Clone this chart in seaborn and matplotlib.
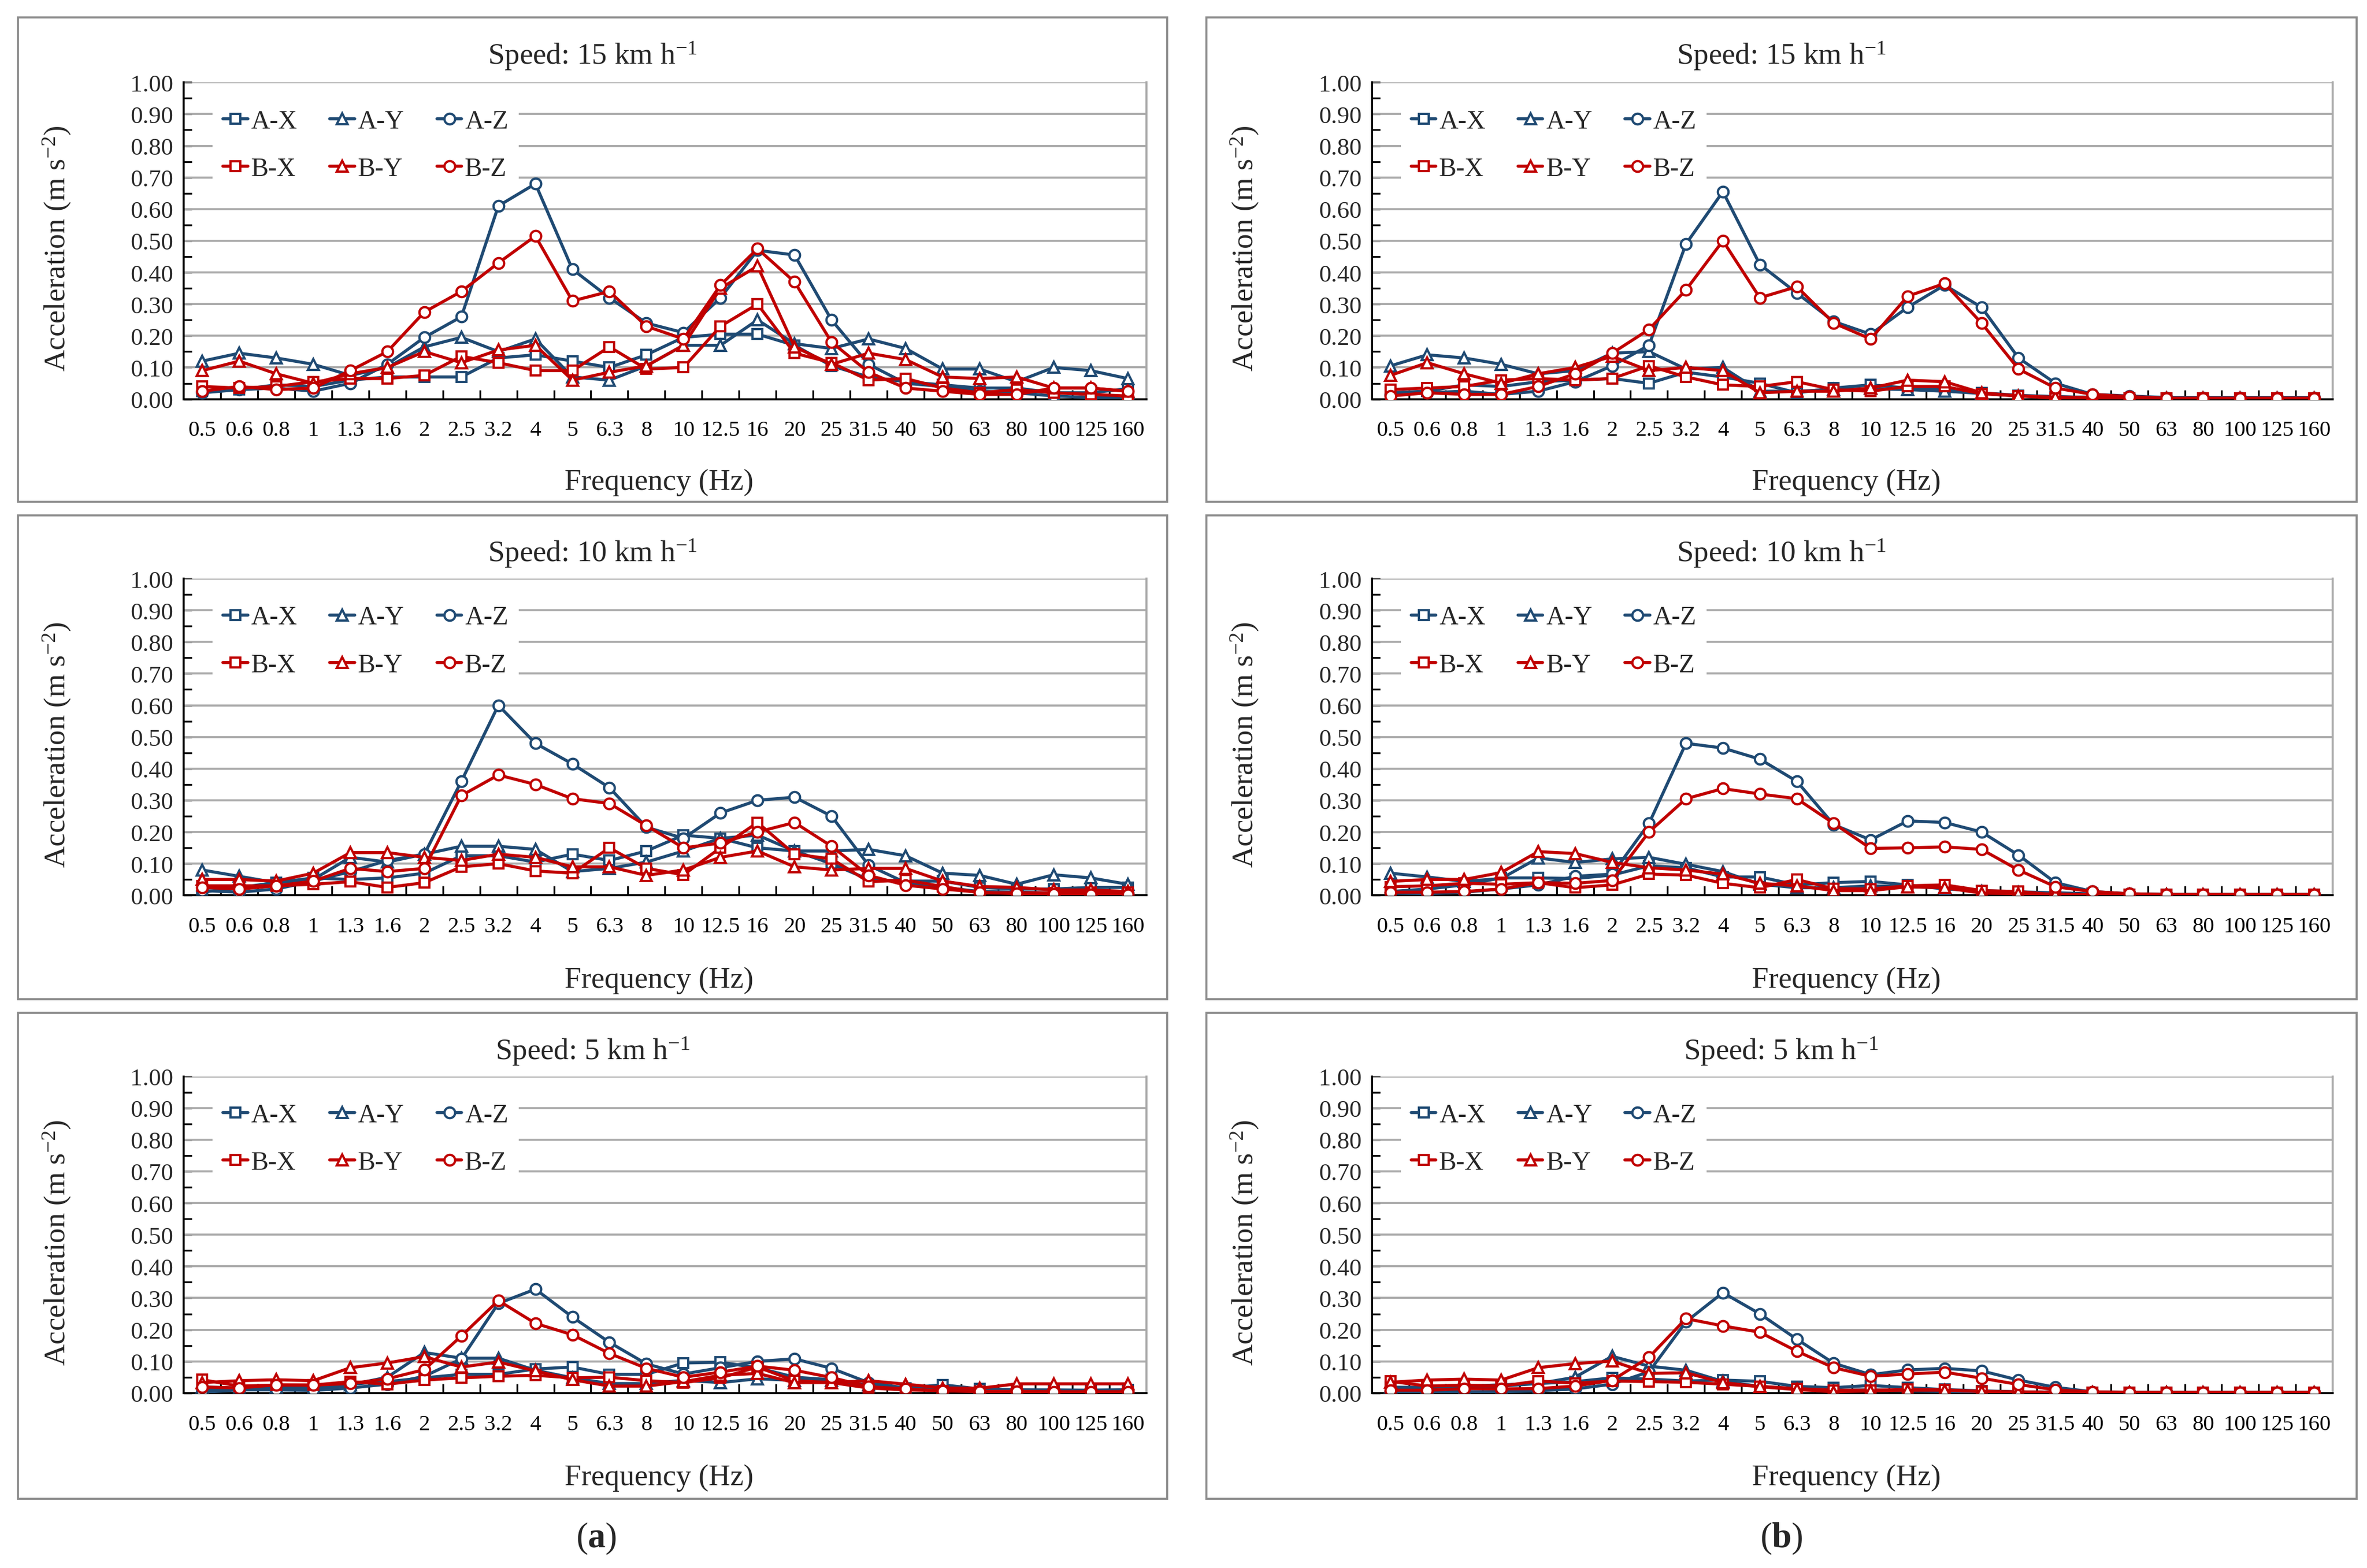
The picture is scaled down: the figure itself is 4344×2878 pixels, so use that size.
import numpy as np
import pandas as pd
import matplotlib
matplotlib.use("Agg")
import matplotlib.pyplot as plt
import seaborn as sns
from matplotlib.patches import Rectangle

sns.set_theme(style="white")
plt.rcParams['font.family'] = ['Liberation Serif', 'DejaVu Serif']
plt.rcParams['mathtext.fontset'] = 'custom'
plt.rcParams['mathtext.rm'] = 'Liberation Serif'
plt.rcParams['mathtext.it'] = 'Liberation Serif:italic'
plt.rcParams['mathtext.bf'] = 'Liberation Serif:bold'
plt.rcParams['mathtext.default'] = 'regular'

# ---------------- data ----------------
FREQ = ["0.5", "0.6", "0.8", "1", "1.3", "1.6", "2", "2.5", "3.2", "4", "5", "6.3", "8",
        "10", "12.5", "16", "20", "25", "31.5", "40", "50", "63", "80", "100", "125", "160"]
SERIES = ["A-X", "A-Y", "A-Z", "B-X", "B-Y", "B-Z"]
YTICKS = [0.0, 0.1, 0.2, 0.3, 0.4, 0.5, 0.6, 0.7, 0.8, 0.9, 1.0]

# (a) 15 km/h
a15_AX = [0.025, 0.03, 0.045, 0.04, 0.06, 0.07, 0.07, 0.07, 0.13, 0.14, 0.12, 0.10, 0.14, 0.195, 0.205, 0.205, 0.17, 0.105, 0.07, 0.055, 0.045, 0.035, 0.035, 0.02, 0.02, 0.033]
a15_AY = [0.12, 0.145, 0.13, 0.11, 0.075, 0.10, 0.165, 0.195, 0.15, 0.19, 0.07, 0.06, 0.105, 0.17, 0.17, 0.25, 0.175, 0.16, 0.19, 0.16, 0.095, 0.095, 0.055, 0.10, 0.09, 0.065]
a15_AZ = [0.02, 0.03, 0.035, 0.025, 0.05, 0.11, 0.195, 0.26, 0.61, 0.68, 0.41, 0.32, 0.24, 0.21, 0.32, 0.47, 0.455, 0.25, 0.11, 0.05, 0.04, 0.025, 0.02, 0.01, 0.005, 0.005]
a15_BX = [0.04, 0.035, 0.04, 0.055, 0.065, 0.065, 0.075, 0.135, 0.115, 0.09, 0.09, 0.165, 0.095, 0.10, 0.23, 0.30, 0.145, 0.115, 0.06, 0.065, 0.035, 0.02, 0.03, 0.02, 0.015, 0.01]
a15_BY = [0.09, 0.12, 0.08, 0.05, 0.08, 0.10, 0.15, 0.115, 0.155, 0.17, 0.06, 0.085, 0.105, 0.17, 0.35, 0.42, 0.165, 0.11, 0.145, 0.125, 0.07, 0.065, 0.07, 0.035, 0.035, 0.025]
a15_BZ = [0.025, 0.04, 0.03, 0.035, 0.09, 0.15, 0.275, 0.34, 0.43, 0.515, 0.31, 0.34, 0.23, 0.19, 0.36, 0.475, 0.37, 0.18, 0.085, 0.035, 0.025, 0.015, 0.015, 0.035, 0.035, 0.025]

# (b) 15 km/h
b15_AX = [0.02, 0.025, 0.045, 0.04, 0.055, 0.06, 0.065, 0.05, 0.085, 0.07, 0.05, 0.02, 0.035, 0.045, 0.035, 0.03, 0.02, 0.012, 0.008, 0.005, 0.003, 0.003, 0.003, 0.003, 0.003, 0.003]
b15_AY = [0.105, 0.14, 0.13, 0.11, 0.08, 0.09, 0.145, 0.15, 0.095, 0.10, 0.025, 0.025, 0.03, 0.033, 0.03, 0.025, 0.018, 0.01, 0.008, 0.005, 0.003, 0.003, 0.003, 0.003, 0.003, 0.003]
b15_AZ = [0.015, 0.02, 0.025, 0.015, 0.025, 0.055, 0.105, 0.17, 0.49, 0.655, 0.425, 0.335, 0.245, 0.205, 0.29, 0.36, 0.29, 0.13, 0.05, 0.015, 0.01, 0.005, 0.005, 0.005, 0.005, 0.005]
b15_BX = [0.03, 0.035, 0.04, 0.06, 0.065, 0.06, 0.065, 0.105, 0.07, 0.045, 0.04, 0.055, 0.03, 0.025, 0.04, 0.04, 0.017, 0.01, 0.003, 0.002, 0.002, 0.002, 0.002, 0.002, 0.002, 0.002]
b15_BY = [0.075, 0.115, 0.08, 0.05, 0.08, 0.10, 0.135, 0.09, 0.10, 0.09, 0.02, 0.025, 0.025, 0.035, 0.06, 0.055, 0.02, 0.01, 0.006, 0.005, 0.003, 0.003, 0.003, 0.003, 0.003, 0.003]
b15_BZ = [0.01, 0.02, 0.015, 0.015, 0.04, 0.08, 0.145, 0.22, 0.345, 0.50, 0.32, 0.355, 0.24, 0.19, 0.325, 0.365, 0.24, 0.095, 0.035, 0.015, 0.008, 0.003, 0.003, 0.003, 0.003, 0.003]

# (a) 10 km/h
a10_AX = [0.01, 0.025, 0.04, 0.055, 0.05, 0.055, 0.07, 0.125, 0.125, 0.105, 0.13, 0.11, 0.14, 0.19, 0.18, 0.15, 0.14, 0.10, 0.05, 0.045, 0.045, 0.025, 0.02, 0.02, 0.025, 0.025]
a10_AY = [0.08, 0.06, 0.04, 0.05, 0.12, 0.105, 0.13, 0.155, 0.155, 0.145, 0.075, 0.085, 0.105, 0.14, 0.18, 0.19, 0.14, 0.14, 0.145, 0.125, 0.07, 0.063, 0.035, 0.065, 0.055, 0.035]
a10_AZ = [0.015, 0.01, 0.02, 0.045, 0.075, 0.11, 0.13, 0.36, 0.60, 0.48, 0.415, 0.34, 0.215, 0.18, 0.26, 0.30, 0.31, 0.25, 0.095, 0.04, 0.025, 0.012, 0.01, 0.008, 0.008, 0.005]
a10_BX = [0.03, 0.03, 0.03, 0.035, 0.043, 0.025, 0.04, 0.09, 0.10, 0.077, 0.07, 0.15, 0.085, 0.065, 0.15, 0.23, 0.13, 0.115, 0.043, 0.048, 0.028, 0.008, 0.008, 0.008, 0.01, 0.01]
a10_BY = [0.05, 0.05, 0.045, 0.07, 0.135, 0.135, 0.12, 0.11, 0.13, 0.12, 0.09, 0.09, 0.063, 0.08, 0.12, 0.14, 0.09, 0.08, 0.085, 0.085, 0.045, 0.028, 0.025, 0.017, 0.017, 0.012]
a10_BZ = [0.025, 0.02, 0.03, 0.045, 0.085, 0.075, 0.085, 0.315, 0.38, 0.35, 0.305, 0.29, 0.22, 0.15, 0.165, 0.20, 0.23, 0.155, 0.063, 0.032, 0.02, 0.01, 0.005, 0.004, 0.003, 0.003]

# (b) 10 km/h
b10_AX = [0.012, 0.02, 0.033, 0.055, 0.055, 0.053, 0.064, 0.093, 0.087, 0.058, 0.058, 0.033, 0.04, 0.044, 0.033, 0.02, 0.015, 0.011, 0.008, 0.005, 0.002, 0.002, 0.002, 0.002, 0.002, 0.002]
b10_AY = [0.07, 0.058, 0.044, 0.053, 0.118, 0.104, 0.115, 0.12, 0.098, 0.075, 0.035, 0.024, 0.024, 0.03, 0.027, 0.024, 0.013, 0.01, 0.007, 0.004, 0.002, 0.002, 0.002, 0.002, 0.002, 0.002]
b10_AZ = [0.007, 0.005, 0.01, 0.02, 0.033, 0.06, 0.067, 0.227, 0.48, 0.465, 0.43, 0.36, 0.223, 0.175, 0.235, 0.23, 0.20, 0.127, 0.04, 0.012, 0.005, 0.003, 0.003, 0.003, 0.003, 0.003]
b10_BX = [0.027, 0.03, 0.038, 0.035, 0.04, 0.024, 0.033, 0.067, 0.064, 0.038, 0.024, 0.05, 0.021, 0.02, 0.03, 0.033, 0.015, 0.012, 0.002, 0.002, 0.002, 0.002, 0.002, 0.002, 0.002, 0.002]
b10_BY = [0.044, 0.05, 0.05, 0.072, 0.138, 0.132, 0.104, 0.087, 0.08, 0.067, 0.038, 0.03, 0.015, 0.015, 0.027, 0.024, 0.007, 0.005, 0.004, 0.002, 0.002, 0.002, 0.002, 0.002, 0.002, 0.002]
b10_BZ = [0.01, 0.01, 0.012, 0.02, 0.04, 0.038, 0.047, 0.20, 0.305, 0.337, 0.32, 0.305, 0.227, 0.148, 0.15, 0.153, 0.145, 0.08, 0.027, 0.012, 0.005, 0.003, 0.003, 0.003, 0.003, 0.003]

# (a) 5 km/h
a5_AX = [0.01, 0.016, 0.019, 0.018, 0.028, 0.036, 0.048, 0.059, 0.059, 0.076, 0.082, 0.059, 0.059, 0.095, 0.097, 0.08, 0.05, 0.042, 0.022, 0.016, 0.026, 0.013, 0.01, 0.008, 0.009, 0.01]
a5_AY = [0.019, 0.016, 0.019, 0.013, 0.026, 0.05, 0.128, 0.11, 0.11, 0.072, 0.048, 0.03, 0.03, 0.04, 0.033, 0.045, 0.04, 0.04, 0.025, 0.016, 0.012, 0.013, 0.01, 0.01, 0.009, 0.01]
a5_AZ = [0.002, 0.01, 0.01, 0.008, 0.016, 0.028, 0.053, 0.108, 0.283, 0.328, 0.24, 0.16, 0.092, 0.06, 0.08, 0.10, 0.108, 0.078, 0.033, 0.016, 0.008, 0.005, 0.005, 0.003, 0.003, 0.003]
a5_BX = [0.042, 0.022, 0.025, 0.025, 0.036, 0.028, 0.041, 0.048, 0.053, 0.056, 0.048, 0.05, 0.039, 0.033, 0.048, 0.082, 0.039, 0.033, 0.016, 0.01, 0.007, 0.005, 0.005, 0.004, 0.004, 0.004]
a5_BY = [0.033, 0.039, 0.042, 0.039, 0.08, 0.095, 0.115, 0.082, 0.098, 0.07, 0.042, 0.022, 0.022, 0.036, 0.056, 0.062, 0.033, 0.033, 0.039, 0.028, 0.016, 0.015, 0.029, 0.029, 0.029, 0.029]
a5_BZ = [0.019, 0.016, 0.026, 0.025, 0.03, 0.045, 0.074, 0.18, 0.292, 0.22, 0.184, 0.125, 0.078, 0.05, 0.066, 0.085, 0.072, 0.049, 0.02, 0.013, 0.007, 0.005, 0.005, 0.004, 0.004, 0.004]

# (b) 5 km/h
b5_AX = [0.018, 0.018, 0.021, 0.026, 0.03, 0.036, 0.048, 0.044, 0.038, 0.041, 0.037, 0.021, 0.017, 0.024, 0.017, 0.011, 0.007, 0.004, 0.002, 0.002, 0.002, 0.002, 0.002, 0.002, 0.002, 0.002]
b5_AY = [0.018, 0.017, 0.02, 0.022, 0.03, 0.05, 0.116, 0.085, 0.072, 0.037, 0.021, 0.013, 0.009, 0.01, 0.007, 0.005, 0.004, 0.003, 0.002, 0.002, 0.002, 0.002, 0.002, 0.002, 0.002, 0.002]
b5_AZ = [0.001, 0.004, 0.004, 0.004, 0.007, 0.013, 0.028, 0.067, 0.225, 0.317, 0.25, 0.17, 0.094, 0.058, 0.073, 0.078, 0.07, 0.041, 0.018, 0.004, 0.001, 0.001, 0.001, 0.001, 0.001, 0.001]
b5_BX = [0.037, 0.022, 0.025, 0.022, 0.038, 0.031, 0.038, 0.036, 0.034, 0.028, 0.021, 0.014, 0.009, 0.009, 0.011, 0.01, 0.005, 0.004, 0.002, 0.002, 0.002, 0.002, 0.002, 0.002, 0.002, 0.002]
b5_BY = [0.034, 0.041, 0.044, 0.041, 0.08, 0.093, 0.101, 0.062, 0.064, 0.033, 0.02, 0.011, 0.004, 0.007, 0.009, 0.009, 0.005, 0.003, 0.002, 0.002, 0.002, 0.002, 0.002, 0.002, 0.002, 0.002]
b5_BZ = [0.009, 0.009, 0.014, 0.013, 0.014, 0.022, 0.04, 0.113, 0.235, 0.212, 0.192, 0.132, 0.08, 0.053, 0.06, 0.066, 0.047, 0.027, 0.01, 0.004, 0.002, 0.002, 0.002, 0.002, 0.002, 0.002]

SPEEDS = ["15", "10", "5"]
PANEL_DATA = {
    (0, 0): [a15_AX, a15_AY, a15_AZ, a15_BX, a15_BY, a15_BZ],
    (0, 1): [b15_AX, b15_AY, b15_AZ, b15_BX, b15_BY, b15_BZ],
    (1, 0): [a10_AX, a10_AY, a10_AZ, a10_BX, a10_BY, a10_BZ],
    (1, 1): [b10_AX, b10_AY, b10_AZ, b10_BX, b10_BY, b10_BZ],
    (2, 0): [a5_AX, a5_AY, a5_AZ, a5_BX, a5_BY, a5_BZ],
    (2, 1): [b5_AX, b5_AY, b5_AZ, b5_BX, b5_BY, b5_BZ],
}

# ---------------- style ----------------
BLUE = "#1F4A73"
RED = "#C00000"
GRID = "#A9A9A9"
COLORS = {"A": BLUE, "B": RED}
MARKERS = {"X": "s", "Y": "^", "Z": "o"}
MSIZE = {"s": 4.3, "^": 4.9, "o": 4.7}

W, H = 1568.0, 1040.0   # layout units (reference preview scale)
COLS = [dict(box=(12, 773), x0=121.7, x1=759.3),
        dict(box=(799, 1561), x0=908.8, x1=1545.2)]
ROWS = [dict(box=(12, 333), y0=265, y1=55, title=37, xlab=320),
        dict(box=(342, 663), y0=594, y1=384, title=367, xlab=650),
        dict(box=(672, 994), y0=924, y1=714, title=697, xlab=980)]

fig = plt.figure(figsize=(4344 / 300, 2879 / 300), dpi=300)
fig.patch.set_facecolor("white")

def fx(x):
    return x / W

def fy(y):
    return 1 - y / H

for (ri, ci), values in PANEL_DATA.items():
    col, row = COLS[ci], ROWS[ri]
    bx0, bx1 = col["box"]
    by0, by1 = row["box"]
    fig.patches.append(Rectangle((fx(bx0), fy(by1)), fx(bx1) - fx(bx0), fy(by0) - fy(by1),
                                 transform=fig.transFigure, fill=False,
                                 edgecolor="#8C8C8C", linewidth=0.9, zorder=0))
    ax = fig.add_axes([fx(col["x0"]), fy(row["y0"]),
                       fx(col["x1"]) - fx(col["x0"]), fy(row["y1"]) - fy(row["y0"])])
    ax.set_facecolor("none")

    pos = np.arange(len(FREQ))
    handles = {}
    for name, vals in zip(SERIES, values):
        grp, axis_ = name.split("-")
        c = COLORS[grp]
        m = MARKERS[axis_]
        df = pd.DataFrame({"pos": pos, "acc": vals})
        sns.lineplot(data=df, x="pos", y="acc", ax=ax, color=c, marker=m,
                     markersize=MSIZE[m], markerfacecolor="white", markeredgecolor=c,
                     markeredgewidth=1.0, linewidth=1.35, errorbar=None, sort=False,
                     legend=False, zorder=3)
        handles[name] = ax.lines[-1]

    ax.set_xlim(-0.5, len(FREQ) - 0.5)
    ax.set_ylim(0, 1.0)
    ax.set_xticks(pos)
    ax.set_xticklabels(FREQ, fontsize=9.8)
    ax.set_xticks(np.arange(0.5, len(FREQ) - 1, 1.0), minor=True)
    ax.tick_params(axis="x", which="major", length=0, pad=9.3, colors="black")
    ax.tick_params(axis="x", which="minor", direction="in", length=4, width=0.8,
                   color="black", bottom=True)
    ax.set_yticks(YTICKS)
    ax.set_yticklabels([f"{v:.2f}" for v in YTICKS], fontsize=10.8)
    ax.set_yticks(np.arange(0.05, 1.0, 0.1), minor=True)
    ax.tick_params(axis="y", which="both", direction="in", length=3.5, width=0.8,
                   color="black", left=True, pad=4.5)
    ax.grid(False)
    for v in YTICKS[1:]:
        ax.axhline(v, color=GRID, linewidth=0.9, zorder=1)
    ax.spines["top"].set_visible(False)
    ax.spines["right"].set_color(GRID)
    ax.spines["right"].set_linewidth(0.9)
    ax.spines["left"].set_color("black")
    ax.spines["bottom"].set_color("black")
    ax.spines["left"].set_linewidth(0.9)
    ax.spines["bottom"].set_linewidth(0.9)
    ax.set_xlabel("")
    ax.set_ylabel("")

    order = ["A-X", "B-X", "A-Y", "B-Y", "A-Z", "B-Z"]
    leg = ax.legend([handles[n] for n in order], order, ncol=3, loc="upper left",
                    bbox_to_anchor=(0.03, 0.948), borderaxespad=0, borderpad=0.4,
                    frameon=True, fancybox=False, framealpha=1, facecolor="white",
                    edgecolor="white", fontsize=11.5, handlelength=0.95,
                    handletextpad=0.12, columnspacing=1.25, labelspacing=0.9,
                    numpoints=1)
    leg.get_frame().set_linewidth(0)
    leg.set_zorder(5)

    fig.text(fx((bx0 + bx1) / 2), fy(row["title"]),
             r"Speed: " + SPEEDS[ri] + r" km h$^{-1}$", ha="center", va="center", fontsize=13.2)
    fig.text(fx((col["x0"] + col["x1"]) / 2 - 4), fy(row["xlab"]), "Frequency (Hz)",
             ha="center", va="center", fontsize=13.2)
    fig.text(fx(col["x0"] - 84), fy((row["y0"] + row["y1"]) / 2 + 5),
             r"Acceleration (m s$^{-2}$)", ha="center", va="center", rotation=90, fontsize=13.2)

fig.text(fx(395), fy(1020), r"($\mathbf{a}$)", ha="center", va="center", fontsize=15.5)
fig.text(fx(1180), fy(1020), r"($\mathbf{b}$)", ha="center", va="center", fontsize=15.5)

fig.savefig("out.png", dpi=300, facecolor="white")
